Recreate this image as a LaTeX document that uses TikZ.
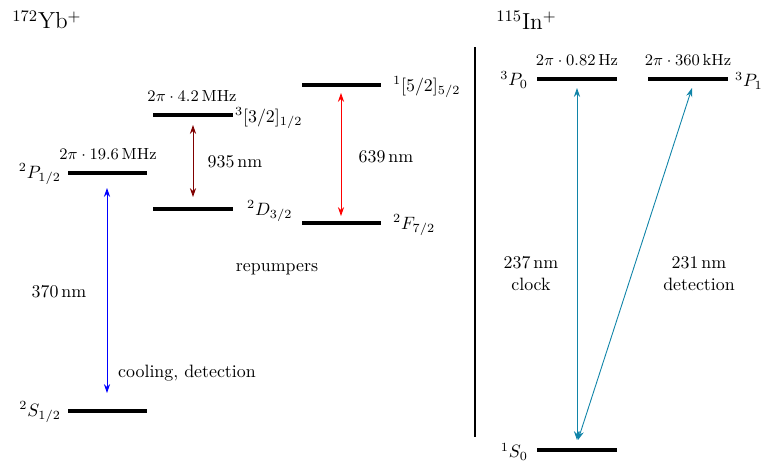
\documentclass[tikz,border=0pt]{standalone}
\usetikzlibrary{arrows.meta}
\definecolor{darkred}{RGB}{128,0,0}
\definecolor{inblue}{RGB}{16,132,168}
\begin{document}
\begin{tikzpicture}[x=0.5596pt,y=-0.5596pt,
  level/.style={line width=2.2pt},
  trans/.style={line width=0.5pt,{Stealth[length=5pt,width=3.5pt]}-{Stealth[length=5pt,width=3.5pt]}},
  width/.style={font=\small},
  title/.style={anchor=west,font=\fontsize{13}{15}\selectfont},
  lbl/.style={inner sep=1pt}]
\useasboundingbox (0,0) rectangle (773,463);
% Yb levels
\coordinate (S1a) at (68,411); \coordinate (S1b) at (147,411);
\coordinate (P1a) at (68,173); \coordinate (P1b) at (147,173);
\coordinate (Q1a) at (153,115); \coordinate (Q1b) at (233,115);
\coordinate (D1a) at (153,209); \coordinate (D1b) at (233,209);
\coordinate (R1a) at (302,85); \coordinate (R1b) at (381,85);
\coordinate (F1a) at (302,223); \coordinate (F1b) at (381,223);
\draw[level] (S1a) -- (S1b);
\draw[level] (P1a) -- (P1b);
\draw[level] (Q1a) -- (Q1b);
\draw[level] (D1a) -- (D1b);
\draw[level] (R1a) -- (R1b);
\draw[level] (F1a) -- (F1b);
\node[title] (yb) at (6,20) {$^{172}$Yb$^+$};
\node[lbl,anchor=east] (lS) at (63,412) {$^2S_{1/2}$};
\node[lbl,anchor=east] (lP) at (63,174) {$^2P_{1/2}$};
\node[width] (wP) at (108,154) {$2\pi\cdot19.6\,$MHz};
\node[lbl,anchor=west] (lQ) at (233,118) {$^3[3/2]_{1/2}$};
\node[width] (wQ) at (192,96) {$2\pi\cdot4.2\,$MHz};
\node[lbl,anchor=west] (lD) at (245,211) {$^2D_{3/2}$};
\node[lbl,anchor=west] (lR) at (391,87) {$^1[5/2]_{5/2}$};
\node[lbl,anchor=west] (lF) at (391,225) {$^2F_{7/2}$};
% Yb transitions
\coordinate (b1) at (107,188); \coordinate (b2) at (107,393);
\coordinate (d1) at (193,125); \coordinate (d2) at (193,197);
\coordinate (r1) at (341,93); \coordinate (r2) at (341,216);
\draw[trans,blue] (b1) -- (b2);
\draw[trans,darkred] (d1) -- (d2);
\draw[trans,red] (r1) -- (r2);
\node (n370) at (59,292) {$370\,$nm};
\node (n935) at (235,162) {$935\,$nm};
\node (n639) at (386,157) {$639\,$nm};
\node (rep) at (277,269) {repumpers};
\node (cool) at (187,373) {cooling, detection};
% separator
\coordinate (v1) at (475,47); \coordinate (v2) at (475,437);
\draw[line width=0.6pt] (v1) -- (v2);
% In levels
\coordinate (P0a) at (537,79); \coordinate (P0b) at (617,79);
\coordinate (P1c) at (648,79); \coordinate (P1d) at (728,79);
\coordinate (S0a) at (537,450); \coordinate (S0b) at (617,450);
\draw[level] (P0a) -- (P0b);
\draw[level] (P1c) -- (P1d);
\draw[level] (S0a) -- (S0b);
\node[title] (in) at (490,20) {$^{115}$In$^+$};
\node[lbl,anchor=east] (lP0) at (530,80) {$^3P_0$};
\node[lbl,anchor=west] (lP1) at (733,81) {$^3P_1$};
\node[lbl,anchor=east] (lS0) at (530,452) {$^1S_0$};
\node[width] (wP0) at (577,60) {$2\pi\cdot0.82\,$Hz};
\node[width] (wP1) at (688,60) {$2\pi\cdot360\,$kHz};
\coordinate (c1) at (577,88); \coordinate (c2) at (577,440);
\coordinate (e1) at (692,88); \coordinate (e2) at (578,440);
\draw[trans,inblue] (c1) -- (c2);
\draw[trans,inblue] (e1) -- (e2);
\node[align=center] (clk) at (531,274) {$237\,$nm\\clock};
\node[align=center] (det) at (699,274) {$231\,$nm\\detection};
\end{tikzpicture}
\end{document}
